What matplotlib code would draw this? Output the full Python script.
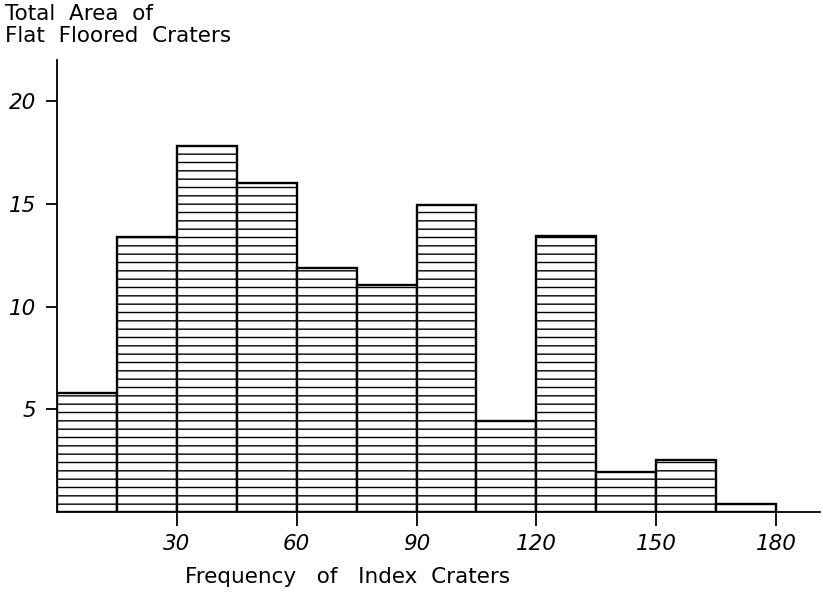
import matplotlib
matplotlib.use("Agg")
import matplotlib.pyplot as plt
import numpy as np

bin_edges = [0, 15, 30, 45, 60, 75, 90, 105, 120, 135, 150, 165, 180]
areas = [5.8, 13.4, 17.8, 16.0, 11.9, 11.05, 14.95, 4.45, 13.45, 1.95, 2.55, 0.4]
xticks = [30, 60, 90, 120, 150, 180]
yticks = [5, 10, 15, 20]

plt.rcParams['hatch.linewidth'] = 1.0
plt.rcParams['font.family'] = ['DejaVu Sans']

fig = plt.figure(figsize=(8.23, 5.92), dpi=100)
ax = fig.add_axes([57/823, 1 - 512/592, (820-57)/823, (512-60)/592])

lefts = bin_edges[:-1]
widths = np.diff(bin_edges)
ax.bar(lefts, areas, width=widths, align='edge', facecolor='white',
       edgecolor='black', linewidth=1.7, hatch='--')

ax.set_xlim(0, 191)
ax.set_ylim(0, 22)
for s in ['top', 'right']:
    ax.spines[s].set_visible(False)
for s in ['left', 'bottom']:
    ax.spines[s].set_linewidth(1.3)

ax.set_xticks(xticks)
ax.set_xticklabels([str(t) for t in xticks], fontsize=15.5, fontstyle='italic')
ax.set_yticks(yticks)
ax.set_yticklabels([str(t) for t in yticks], fontsize=15.5, fontstyle='italic')
ax.tick_params(axis='x', direction='out', length=10, width=1.3, pad=6)
ax.tick_params(axis='y', direction='out', length=8, width=1.3, pad=7)

fig.text(5/823, 1 - 4/592, "Total  Area  of\nFlat  Floored  Craters", fontsize=15.5,
         ha='left', va='top', linespacing=1.1)
fig.text(348/823, 1 - 577/592, "Frequency   of   Index  Craters", fontsize=15.5,
         ha='center', va='center')

fig.savefig("out.png", dpi=100)
